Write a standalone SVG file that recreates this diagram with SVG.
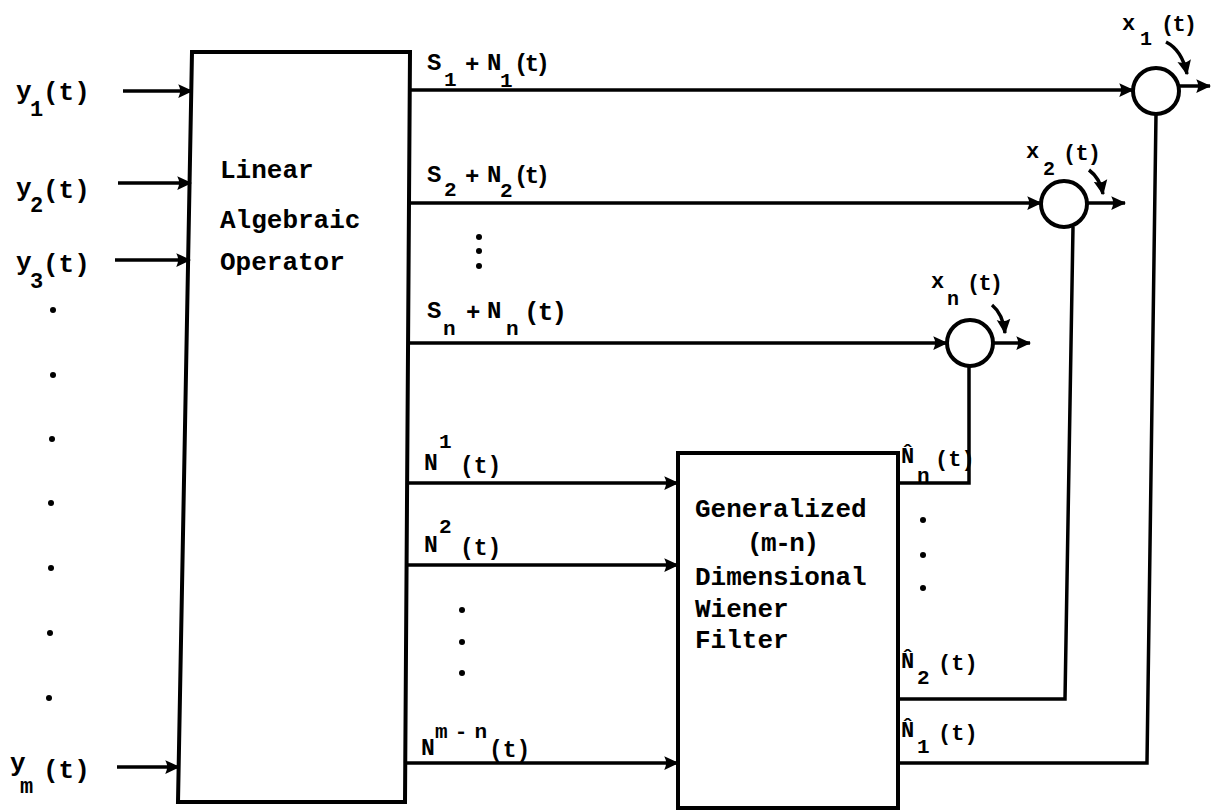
<svg xmlns="http://www.w3.org/2000/svg" width="1215" height="810" viewBox="0 0 1215 810">
<style>
text{font-family:"Liberation Mono","DejaVu Sans Mono",monospace;font-weight:bold;fill:#000}
.big{font-size:26px}
.bsub{font-size:22px}
.med{font-size:24px}
.msub{font-size:21px}
.nl{font-size:23px}
.sm{font-size:22px}
.ssub{font-size:20px}
.box{fill:none;stroke:#000;stroke-width:4;stroke-linejoin:miter}
.ln{fill:none;stroke:#000;stroke-width:3.5}
.arr{marker-end:url(#ah)}
.sum{fill:#fff;stroke:#000;stroke-width:4}
</style>
<defs>
<marker id="ah" viewBox="0 0 12 12" refX="11" refY="6" markerWidth="15" markerHeight="15" markerUnits="userSpaceOnUse" orient="auto">
<path d="M0,0.5 L12,6 L0,11.5 Q3,6 0,0.5 Z" fill="#000"/>
</marker>
</defs>
<rect width="1215" height="810" fill="#fff"/>

<g id="inputs">
<text class="big" x="16" y="99">y</text><text class="bsub" x="30" y="116">1</text><text class="big" x="43" y="100">(t)</text>
<text class="big" x="16" y="196">y</text><text class="bsub" x="30" y="212">2</text><text class="big" x="43" y="198">(t)</text>
<text class="big" x="16" y="270">y</text><text class="bsub" x="30" y="288">3</text><text class="big" x="43" y="272">(t)</text>
<text class="big" x="10" y="771">y</text><text class="bsub" x="20" y="793">m</text><text class="big" x="43" y="778">(t)</text>
<circle cx="53" cy="310" r="3"/><circle cx="53" cy="375" r="3"/><circle cx="52" cy="439" r="3"/><circle cx="51" cy="503" r="3"/><circle cx="51" cy="568" r="3"/><circle cx="50" cy="633" r="3"/><circle cx="49" cy="698" r="3"/>
</g>

<g id="lao">
<path class="box" d="M192,52 H410 L405,802 H178 Z"/>
<text class="big" x="220" y="178">Linear</text>
<text class="big" x="220" y="228">Algebraic</text>
<text class="big" x="220" y="270">Operator</text>
</g>

<g id="filter">
<path class="box" d="M678,453 H898 V808 H678 Z"/>
<text class="big" x="695" y="517">Generalized</text>
<text class="big" x="747" y="551" textLength="72">(m-n)</text>
<text class="big" x="695" y="585">Dimensional</text>
<text class="big" x="695" y="617">Wiener</text>
<text class="big" x="695" y="648">Filter</text>
</g>

<g id="sum1"><circle class="sum" cx="1156" cy="91" r="23"/></g>
<g id="sum2"><circle class="sum" cx="1064" cy="204" r="23"/></g>
<g id="sumn"><circle class="sum" cx="970" cy="343" r="23"/></g>

<g id="connectors">
<path class="ln arr" d="M123,91 H192"/>
<path class="ln arr" d="M118,183 H191"/>
<path class="ln arr" d="M115,260 H190"/>
<path class="ln arr" d="M117,767 H179"/>
<path class="ln arr" d="M410,90 H1133"/>
<path class="ln arr" d="M408,203 H1041"/>
<path class="ln arr" d="M407,343 H947"/>
<path class="ln arr" d="M407,483 H678"/>
<path class="ln arr" d="M406,565 H678"/>
<path class="ln arr" d="M405,763 H678"/>
<path class="ln arr" d="M1179,86 H1210"/>
<path class="ln arr" d="M1087,203 H1125"/>
<path class="ln arr" d="M993,343 H1030"/>
<path class="ln arr" d="M1166,42 Q1182,50 1187,74"/>
<path class="ln arr" d="M1089,170 Q1100,178 1103,194"/>
<path class="ln arr" d="M992,305 Q1003,314 1005,333"/>
<path class="ln" d="M898,483 H969 V366"/>
<path class="ln" d="M898,699 H1065 L1073,227"/>
<path class="ln" d="M898,763 H1147 L1156,114"/>
</g>

<g id="labels">
<text class="med" x="427" y="70">S</text><text class="msub" x="444" y="86">1</text><text class="med" x="465" y="72">+</text><text class="med" x="487" y="70">N</text><text class="msub" x="500" y="87">1</text><text class="med" x="514" y="71" textLength="36">(t)</text>
<text class="med" x="427" y="182">S</text><text class="msub" x="444" y="196">2</text><text class="med" x="465" y="184">+</text><text class="med" x="487" y="182">N</text><text class="msub" x="500" y="197">2</text><text class="med" x="514" y="183" textLength="36">(t)</text>
<circle cx="479" cy="237" r="3"/><circle cx="479" cy="251" r="3"/><circle cx="479" cy="266" r="3"/>
<text class="med" x="427" y="318">S</text><text class="msub" x="443" y="335">n</text><text class="med" x="466" y="320">+</text><text class="med" x="487" y="318">N</text><text class="msub" x="506" y="335">n</text><text class="big" x="524" y="320" textLength="43">(t)</text>
<text class="nl" x="424" y="470">N</text><text class="msub" x="439" y="448">1</text><text class="nl" x="460" y="473">(t)</text>
<text class="nl" x="424" y="552">N</text><text class="msub" x="439" y="533">2</text><text class="nl" x="460" y="555">(t)</text>
<circle cx="462" cy="610" r="3"/><circle cx="462" cy="642" r="3"/><circle cx="462" cy="673" r="3"/>
<text class="nl" x="421" y="755">N</text><text class="msub" x="435" y="738" textLength="52">m-n</text><text class="nl" x="489" y="757">(t)</text>
<text class="bsub" x="901" y="463">N&#x302;</text><text class="msub" x="917" y="482">n</text><text class="bsub" x="935" y="466">(t)</text>
<circle cx="923" cy="520" r="3"/><circle cx="923" cy="555" r="3"/><circle cx="923" cy="588" r="3"/>
<text class="bsub" x="901" y="668">N&#x302;</text><text class="msub" x="917" y="684">2</text><text class="bsub" x="938" y="670">(t)</text>
<text class="bsub" x="901" y="737">N&#x302;</text><text class="msub" x="917" y="753">1</text><text class="bsub" x="938" y="740">(t)</text>
<text class="sm" x="1122" y="30">x</text><text class="ssub" x="1140" y="45">1</text><text class="sm" x="1161" y="31" textLength="36">(t)</text>
<text class="sm" x="1026" y="158">x</text><text class="ssub" x="1043" y="175">2</text><text class="sm" x="1063" y="160" textLength="38">(t)</text>
<text class="sm" x="931" y="288">x</text><text class="ssub" x="947" y="305">n</text><text class="sm" x="967" y="290" textLength="36">(t)</text>
</g>
</svg>
